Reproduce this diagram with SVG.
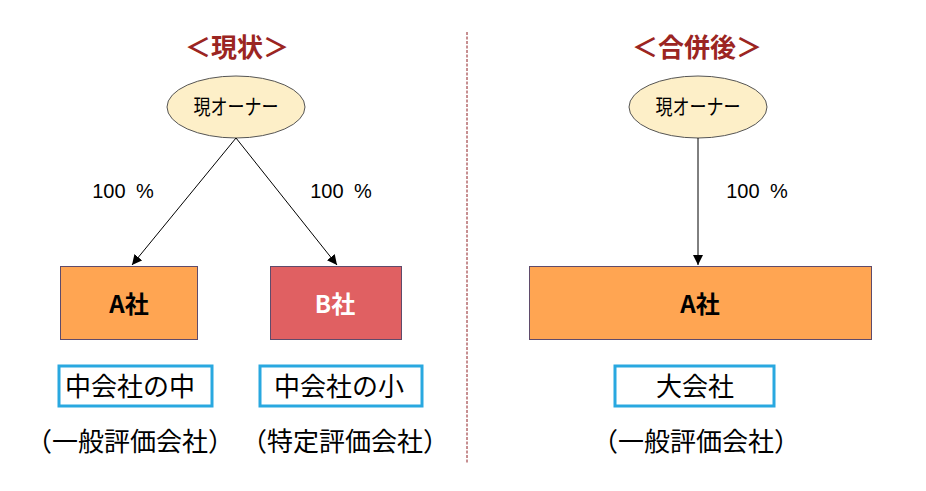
<svg xmlns="http://www.w3.org/2000/svg" width="926" height="491" viewBox="0 0 926 491">
<defs>
<marker id="ah" viewBox="0 0 10 10" refX="10" refY="5" markerWidth="10" markerHeight="10" markerUnits="userSpaceOnUse" orient="auto">
<path d="M0,0 L10,5 L0,10 z" fill="#000"/>
</marker>
</defs>
<style>
.title{font-family:"Noto Sans CJK JP","Liberation Sans",sans-serif;font-size:26px;font-weight:bold;fill:#9B2522;text-anchor:middle}
.own{fill:#FDEFC8;stroke:#555;stroke-width:1}
.ownt{font-family:"Noto Sans CJK JP","Liberation Sans",sans-serif;font-size:21px;fill:#000;text-anchor:middle}
.pct{font-family:"Liberation Sans",Arial,sans-serif;font-size:20px;word-spacing:5px;fill:#000;text-anchor:middle}
.co{stroke:#5F4B6B;stroke-width:1}
.cot{font-family:"Noto Sans CJK JP","Liberation Sans",sans-serif;font-size:24px;font-weight:bold;text-anchor:middle}
.cls{fill:#fff;stroke:#29A8E0;stroke-width:3}
.clt{font-family:"Noto Sans CJK JP","Liberation Sans",sans-serif;font-size:26px;fill:#000;text-anchor:middle}
.conn{stroke:#000;stroke-width:1;fill:none;marker-end:url(#ah)}
</style>
<rect width="926" height="491" fill="#fff"/>
<line x1="467" y1="32" x2="467" y2="463" stroke="#8E1F22" stroke-width="1" stroke-dasharray="3,1.5"/>
<text class="title" x="237" y="57">＜現状＞</text>
<text class="title" x="697" y="57">＜合併後＞</text>
<g id="owner1"><ellipse class="own" cx="236" cy="107" rx="69" ry="31"/><text class="ownt" x="236" y="114" textLength="85" lengthAdjust="spacingAndGlyphs">現オーナー</text></g>
<g id="owner2"><ellipse class="own" cx="698" cy="107" rx="69" ry="31"/><text class="ownt" x="698" y="114" textLength="85" lengthAdjust="spacingAndGlyphs">現オーナー</text></g>
<g id="connectors">
<line class="conn" x1="236" y1="138" x2="132" y2="265"/>
<line class="conn" x1="236" y1="138" x2="337" y2="265"/>
<line class="conn" x1="698" y1="138" x2="698" y2="265"/>
</g>
<text class="pct" x="123" y="198">100 %</text>
<text class="pct" x="341" y="198">100 %</text>
<text class="pct" x="757" y="198">100 %</text>
<g id="companyA"><rect class="co" x="60.5" y="266.5" width="137" height="73" fill="#FFA552"/><text class="cot" x="129" y="313" fill="#000">A社</text></g>
<g id="companyB"><rect class="co" x="270.5" y="266.5" width="131" height="73" fill="#E06062"/><text class="cot" x="335" y="313" fill="#fff">B社</text></g>
<g id="companyA2"><rect class="co" x="529.5" y="266.5" width="342" height="73" fill="#FFA552"/><text class="cot" x="700" y="313" fill="#000">A社</text></g>
<g id="class1"><rect class="cls" x="59" y="366" width="153" height="40"/><text class="clt" x="130" y="396">中会社の中</text></g>
<g id="class2"><rect class="cls" x="260" y="366" width="162" height="40"/><text class="clt" x="339" y="396">中会社の小</text></g>
<g id="class3"><rect class="cls" x="615" y="366" width="159" height="40"/><text class="clt" x="695" y="396">大会社</text></g>
<text class="clt" x="130" y="451">（一般評価会社）</text>
<text class="clt" x="345" y="451">（特定評価会社）</text>
<text class="clt" x="696" y="451">（一般評価会社）</text>
</svg>
